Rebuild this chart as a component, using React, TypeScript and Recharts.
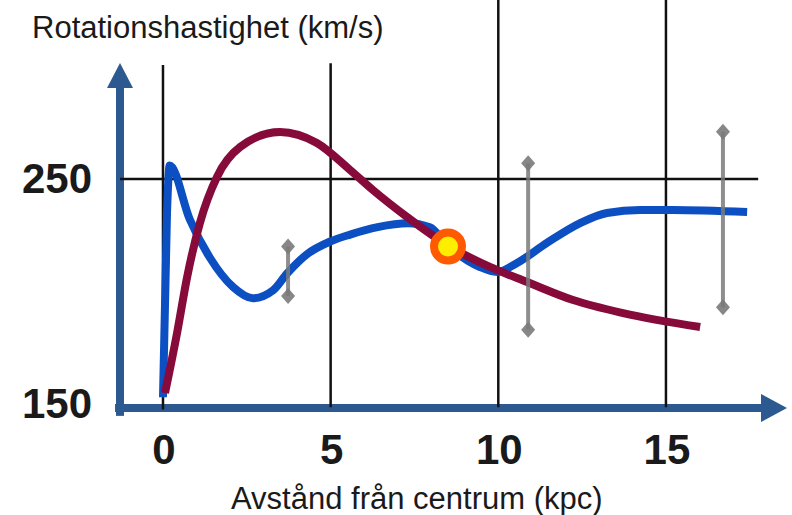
import React from 'react';
import { ComposedChart, Line, XAxis, YAxis, ReferenceLine, ReferenceDot } from 'recharts';

// avstånd (kpc) och hastighet (km/s)
const kpcTicks = [0, 5, 10, 15];
const speedTicks = [150, 250];

// uppmätt rotationskurva (blå)
const observedR = [0, 0.12, 0.2, 0.8, 1.4, 2.09, 2.68, 3.28, 3.7, 4.29, 5.0, 5.58, 6.4, 7.3, 7.96, 8.47, 9.45, 9.96, 10.56, 11.45, 12.44, 13.24, 14.23, 15.21, 17.42];
const observedV = [153, 235, 256, 232, 215, 202, 197, 200.5, 208, 216.5, 222.3, 225.3, 228.6, 230.3, 228.5, 220.7, 210.9, 208.7, 212.7, 221.6, 230.4, 234.9, 236.2, 236.2, 235.3];

// förväntad kurva från synlig massa (röd)
const expectedR = [0.06, 0.42, 0.72, 1.1, 1.61, 2.3, 3.49, 4.59, 5.58, 6.26, 7.28, 8.47, 9.75, 10.86, 12.23, 13.72, 16.02];
const expectedV = [154.9, 181.6, 206.4, 230.4, 250.9, 264.2, 270.9, 266, 254, 245.1, 233.1, 220.7, 210.9, 204.2, 196.2, 190.4, 184.2];

// solens läge
const sunR = 8.5;
const sunV = 220;

// mätosäkerheter
const errR = [3.73, 10.89, 16.7];
const errLow = [198, 183, 193];
const errHigh = [220, 257, 271];

const observed = observedR.map((x, i) => ({ x, v: observedV[i] }));
const expected = expectedR.map((x, i) => ({ x, v: expectedV[i] }));
const errBars = errR.map((x, i) => [
  { x, v: errLow[i] },
  { x, v: errHigh[i] },
]);

const X_DOMAIN: [number, number] = [-1.282, 18.61];
const Y_DOMAIN: [number, number] = [148.22, 302.89];

const AXIS_BLUE = '#2c5a90';
const FONT = '"Liberation Sans", Arial, sans-serif';

const XTick = (props: any) => {
  const { x, payload } = props;
  return (
    <text x={x + 1} y={449} textAnchor="middle" dominantBaseline="central"
      fontFamily={FONT} fontWeight="bold" fontSize={42} fill="#1a1a1a">
      {payload.value}
    </text>
  );
};

const YTick = (props: any) => {
  const { y, payload } = props;
  return (
    <text x={57} y={y} textAnchor="middle" dominantBaseline="central"
      fontFamily={FONT} fontWeight="bold" fontSize={42} fill="#1a1a1a">
      {payload.value}
    </text>
  );
};

// pilar för axlarna
const HArrow = (props: any) => {
  const { x1, y1, x2 } = props;
  return (
    <g>
      <rect x={x1} y={y1 - 4} width={x2 - x1 - 24} height={8} fill={AXIS_BLUE} />
      <polygon points={`${x2 - 26},${y1 - 14} ${x2},${y1} ${x2 - 26},${y1 + 14}`} fill={AXIS_BLUE} />
    </g>
  );
};

const VArrow = (props: any) => {
  const { x1, y1, y2 } = props;
  const top = Math.min(y1, y2);
  const bottom = Math.max(y1, y2);
  return (
    <g>
      <rect x={x1 - 4} y={top + 22} width={8} height={bottom - top - 18} fill={AXIS_BLUE} />
      <polygon points={`${x1 - 13},${top + 25} ${x1},${top} ${x1 + 13},${top + 25}`} fill={AXIS_BLUE} />
    </g>
  );
};

const Diamond = (props: any) => {
  const { cx, cy, index } = props;
  if (cx == null || cy == null) return null;
  return (
    <polygon key={index} points={`${cx},${cy - 8} ${cx + 7},${cy} ${cx},${cy + 8} ${cx - 7},${cy}`}
      fill="#7a7a7a" fillOpacity={0.9} />
  );
};

export default function App() {
  return (
    <div style={{ position: 'absolute', left: 0, top: 0, width: 792, height: 515, background: '#fff' }}>
      <ComposedChart width={792} height={515} margin={{ top: 60, right: 5, left: 0, bottom: 0 }}>
        <XAxis
          type="number"
          dataKey="x"
          domain={X_DOMAIN}
          ticks={kpcTicks}
          interval={0}
          allowDataOverflow
          axisLine={false}
          tickLine={false}
          height={107}
          tick={XTick}
          label={{
            content: () => (
              <text x={231} y={509} fontFamily={FONT} fontSize={31} fill="#1a1a1a">
                Avstånd från centrum (kpc)
              </text>
            ),
          }}
        />
        <YAxis
          type="number"
          dataKey="v"
          domain={Y_DOMAIN}
          ticks={speedTicks}
          interval={0}
          allowDataOverflow
          axisLine={false}
          tickLine={false}
          width={120}
          tick={YTick}
          label={{
            content: () => (
              <text x={32} y={38} fontFamily={FONT} fontSize={31} fill="#1a1a1a">
                Rotationshastighet (km/s)
              </text>
            ),
          }}
        />

        <ReferenceLine ifOverflow="visible" segment={[{ x: -1.43, y: Y_DOMAIN[0] }, { x: 18.61, y: Y_DOMAIN[0] }]} shape={HArrow} />
        <ReferenceLine ifOverflow="visible" segment={[{ x: X_DOMAIN[0], y: 146.5 }, { x: X_DOMAIN[0], y: 301.6 }]} shape={VArrow} />

        {/* rutnät */}
        <ReferenceLine ifOverflow="visible" segment={[{ x: X_DOMAIN[0], y: 250 }, { x: 17.75, y: 250 }]} stroke="#111" strokeWidth={2.5} />
        <ReferenceLine ifOverflow="visible" segment={[{ x: 0, y: 147.5 }, { x: 0, y: 300.7 }]} stroke="#111" strokeWidth={2.5} />
        <ReferenceLine ifOverflow="visible" segment={[{ x: 5, y: 148.5 }, { x: 5, y: 301.5 }]} stroke="#111" strokeWidth={2.5} />
        <ReferenceLine ifOverflow="visible" segment={[{ x: 10, y: 148.5 }, { x: 10, y: 330 }]} stroke="#111" strokeWidth={2.5} />
        <ReferenceLine ifOverflow="visible" segment={[{ x: 15, y: 148.5 }, { x: 15, y: 330 }]} stroke="#111" strokeWidth={2.5} />

        <Line data={observed} dataKey="v" type="monotone" stroke="#0b4fc3" strokeWidth={8}
          dot={false} activeDot={false} isAnimationActive={false} />
        <Line data={expected} dataKey="v" type="monotone" stroke="#860b3a" strokeWidth={8}
          dot={false} activeDot={false} isAnimationActive={false} />

        {errBars.map((bar, i) => (
          <Line key={i} data={bar} dataKey="v" type="linear" stroke="#7a7a7a" strokeOpacity={0.85}
            strokeWidth={4} dot={Diamond} activeDot={false} isAnimationActive={false} />
        ))}

        <ReferenceDot x={sunR} y={sunV} r={14} fill="#ffee00" stroke="#ff5a00" strokeWidth={8} ifOverflow="visible" />
      </ComposedChart>
    </div>
  );
}
